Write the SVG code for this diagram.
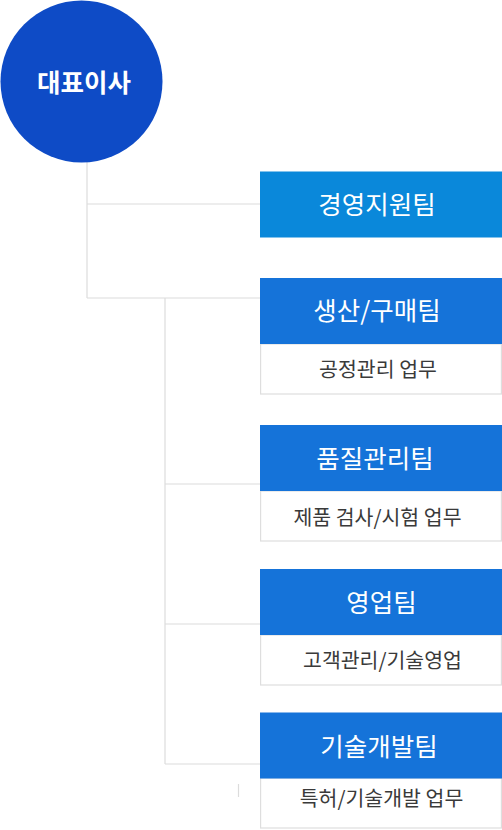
<svg xmlns="http://www.w3.org/2000/svg" width="502" height="830" viewBox="0 0 502 830">
<style>
.line{stroke:#dcdcdc;stroke-width:1.2;fill:none}
.hd{fill:#1573d9}
.hd1{fill:#0a88da}
.sub{fill:#fff;stroke:#dedede;stroke-width:1.2}
.ht{font-family:"Noto Sans CJK KR","Noto Sans",sans-serif;font-size:25.5px;fill:#fff;text-anchor:middle;dominant-baseline:central;font-weight:400}
.st{font-family:"Noto Sans CJK KR","Noto Sans",sans-serif;font-size:20.5px;fill:#3a3a3a;text-anchor:middle;dominant-baseline:central}
.ct{font-family:"Noto Sans CJK KR","Noto Sans",sans-serif;font-size:25.5px;fill:#fff;text-anchor:middle;dominant-baseline:central;font-weight:700}
</style>
<g id="connectors">
<path class="line" d="M87,162 V298 M87,204 H260 M87,298 H260 M165,298 V764 M165,484 H260 M165,624 H260 M165,764 H260 M238.5,784 V797"/>
</g>
<g id="ceo">
<circle cx="81.5" cy="81.5" r="81" fill="#0e4bc6"/>
<text class="ct" x="84" y="80">대표이사</text>
</g>
<g id="team1">
<rect class="hd1" x="260" y="171.5" width="242" height="66"/>
<text class="ht" x="377" y="202">경영지원팀</text>
</g>
<g id="team2">
<rect class="sub" x="260.6" y="344" width="240.8" height="50"/>
<rect class="hd" x="260" y="278" width="242" height="66"/>
<text class="ht" x="377" y="308">생산/구매팀</text>
<text class="st" x="378" y="367.5">공정관리 업무</text>
</g>
<g id="team3">
<rect class="sub" x="260.6" y="491" width="240.8" height="50"/>
<rect class="hd" x="260" y="425" width="242" height="66"/>
<text class="ht" x="375" y="456">품질관리팀</text>
<text class="st" x="377.5" y="515.5">제품 검사/시험 업무</text>
</g>
<g id="team4">
<rect class="sub" x="260.6" y="635" width="240.8" height="50"/>
<rect class="hd" x="260" y="569" width="242" height="66"/>
<text class="ht" x="381.5" y="600">영업팀</text>
<text class="st" x="382.5" y="658.5">고객관리/기술영업</text>
</g>
<g id="team5">
<rect class="sub" x="260.6" y="778" width="240.8" height="50"/>
<rect class="hd" x="260" y="712.5" width="242" height="66"/>
<text class="ht" x="379" y="744">기술개발팀</text>
<text class="st" x="381.5" y="796.5">특허/기술개발 업무</text>
</g>
</svg>
